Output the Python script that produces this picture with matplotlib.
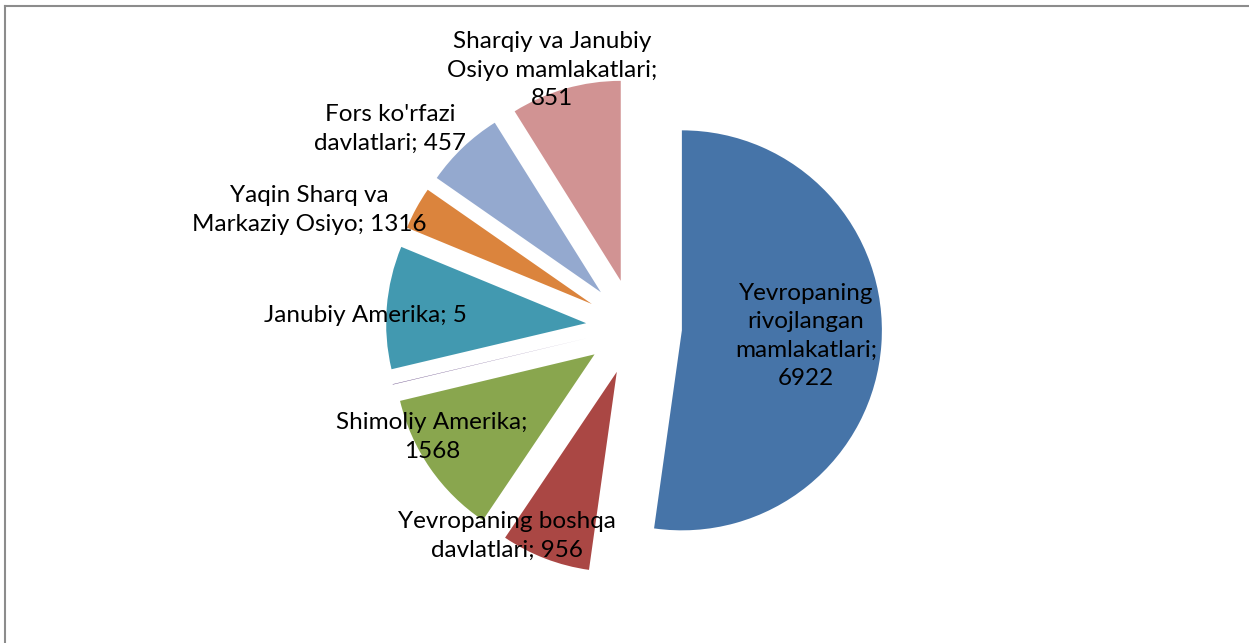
import matplotlib.pyplot as plt
from matplotlib.lines import Line2D

# slices clockwise from 12 o'clock (last slice has no label in the original)
nomlar = ["Yevropaning\nrivojlangan\nmamlakatlari", "Yevropaning boshqa\ndavlatlari",
          "Shimoliy Amerika;\n", "", "Janubiy Amerika", "Yaqin Sharq va\nMarkaziy Osiyo",
          "Fors ko'rfazi\ndavlatlari", "Sharqiy va Janubiy\nOsiyo mamlakatlari;\n"]
qiymatlar = [6922, 956, 1568, 5, 1316, 457, 851, 1180]
yorliq_qiymat = [6922, 956, 1568, None, 5, 1316, 457, 851]
ranglar = ["#4674A8", "#AA4744", "#89A64E", "#71588F", "#4299B0", "#DB843D", "#94A9CF", "#D19393"]

W, H = 1249, 643
cx, cy, r = 634, 327, 200  # pie centre / radius in pixels

fig = plt.figure(figsize=(W / 100, H / 100), dpi=100)
ax = fig.add_axes([0, 0, 1, 1])

ax.pie(qiymatlar, colors=ranglar, startangle=90, counterclock=False,
       explode=[0.24] * len(qiymatlar), radius=1, center=(0, 0), frame=True,
       wedgeprops=dict(linewidth=0))
ax.set_xlim(-cx / r, (W - cx) / r)
ax.set_ylim(-(H - cy) / r, cy / r)
ax.set_aspect("equal")
ax.axis("off")

# label centres (pixels, from top-left), placed like Excel did
joylar = [(806, 336), (507, 536), (432, 437), None, (365, 316), (309, 210), (390, 129), (552, 70)]

for nom, q, joy in zip(nomlar, yorliq_qiymat, joylar):
    if joy is None:
        continue
    if nom.endswith("\n"):
        matn = nom + str(q)
    elif nom.startswith("Yevropaning\n"):
        matn = nom + ";\n" + str(q)
    else:
        matn = nom + "; " + str(q)
    x = (joy[0] - cx) / r
    y = (cy - joy[1]) / r
    ax.text(x, y, matn, ha="center", va="center", fontsize=17.5, family="Lato",
            linespacing=1.42, color="black")

# chart frame (only top and left edges visible)
fig.add_artist(Line2D([5 / W, 5 / W], [0, 1 - 6 / H], transform=fig.transFigure,
                      color="#8c8c8c", linewidth=1.5))
fig.add_artist(Line2D([5 / W, 1], [1 - 6 / H, 1 - 6 / H], transform=fig.transFigure,
                      color="#8c8c8c", linewidth=1.5))

fig.savefig("out.png", dpi=100)
